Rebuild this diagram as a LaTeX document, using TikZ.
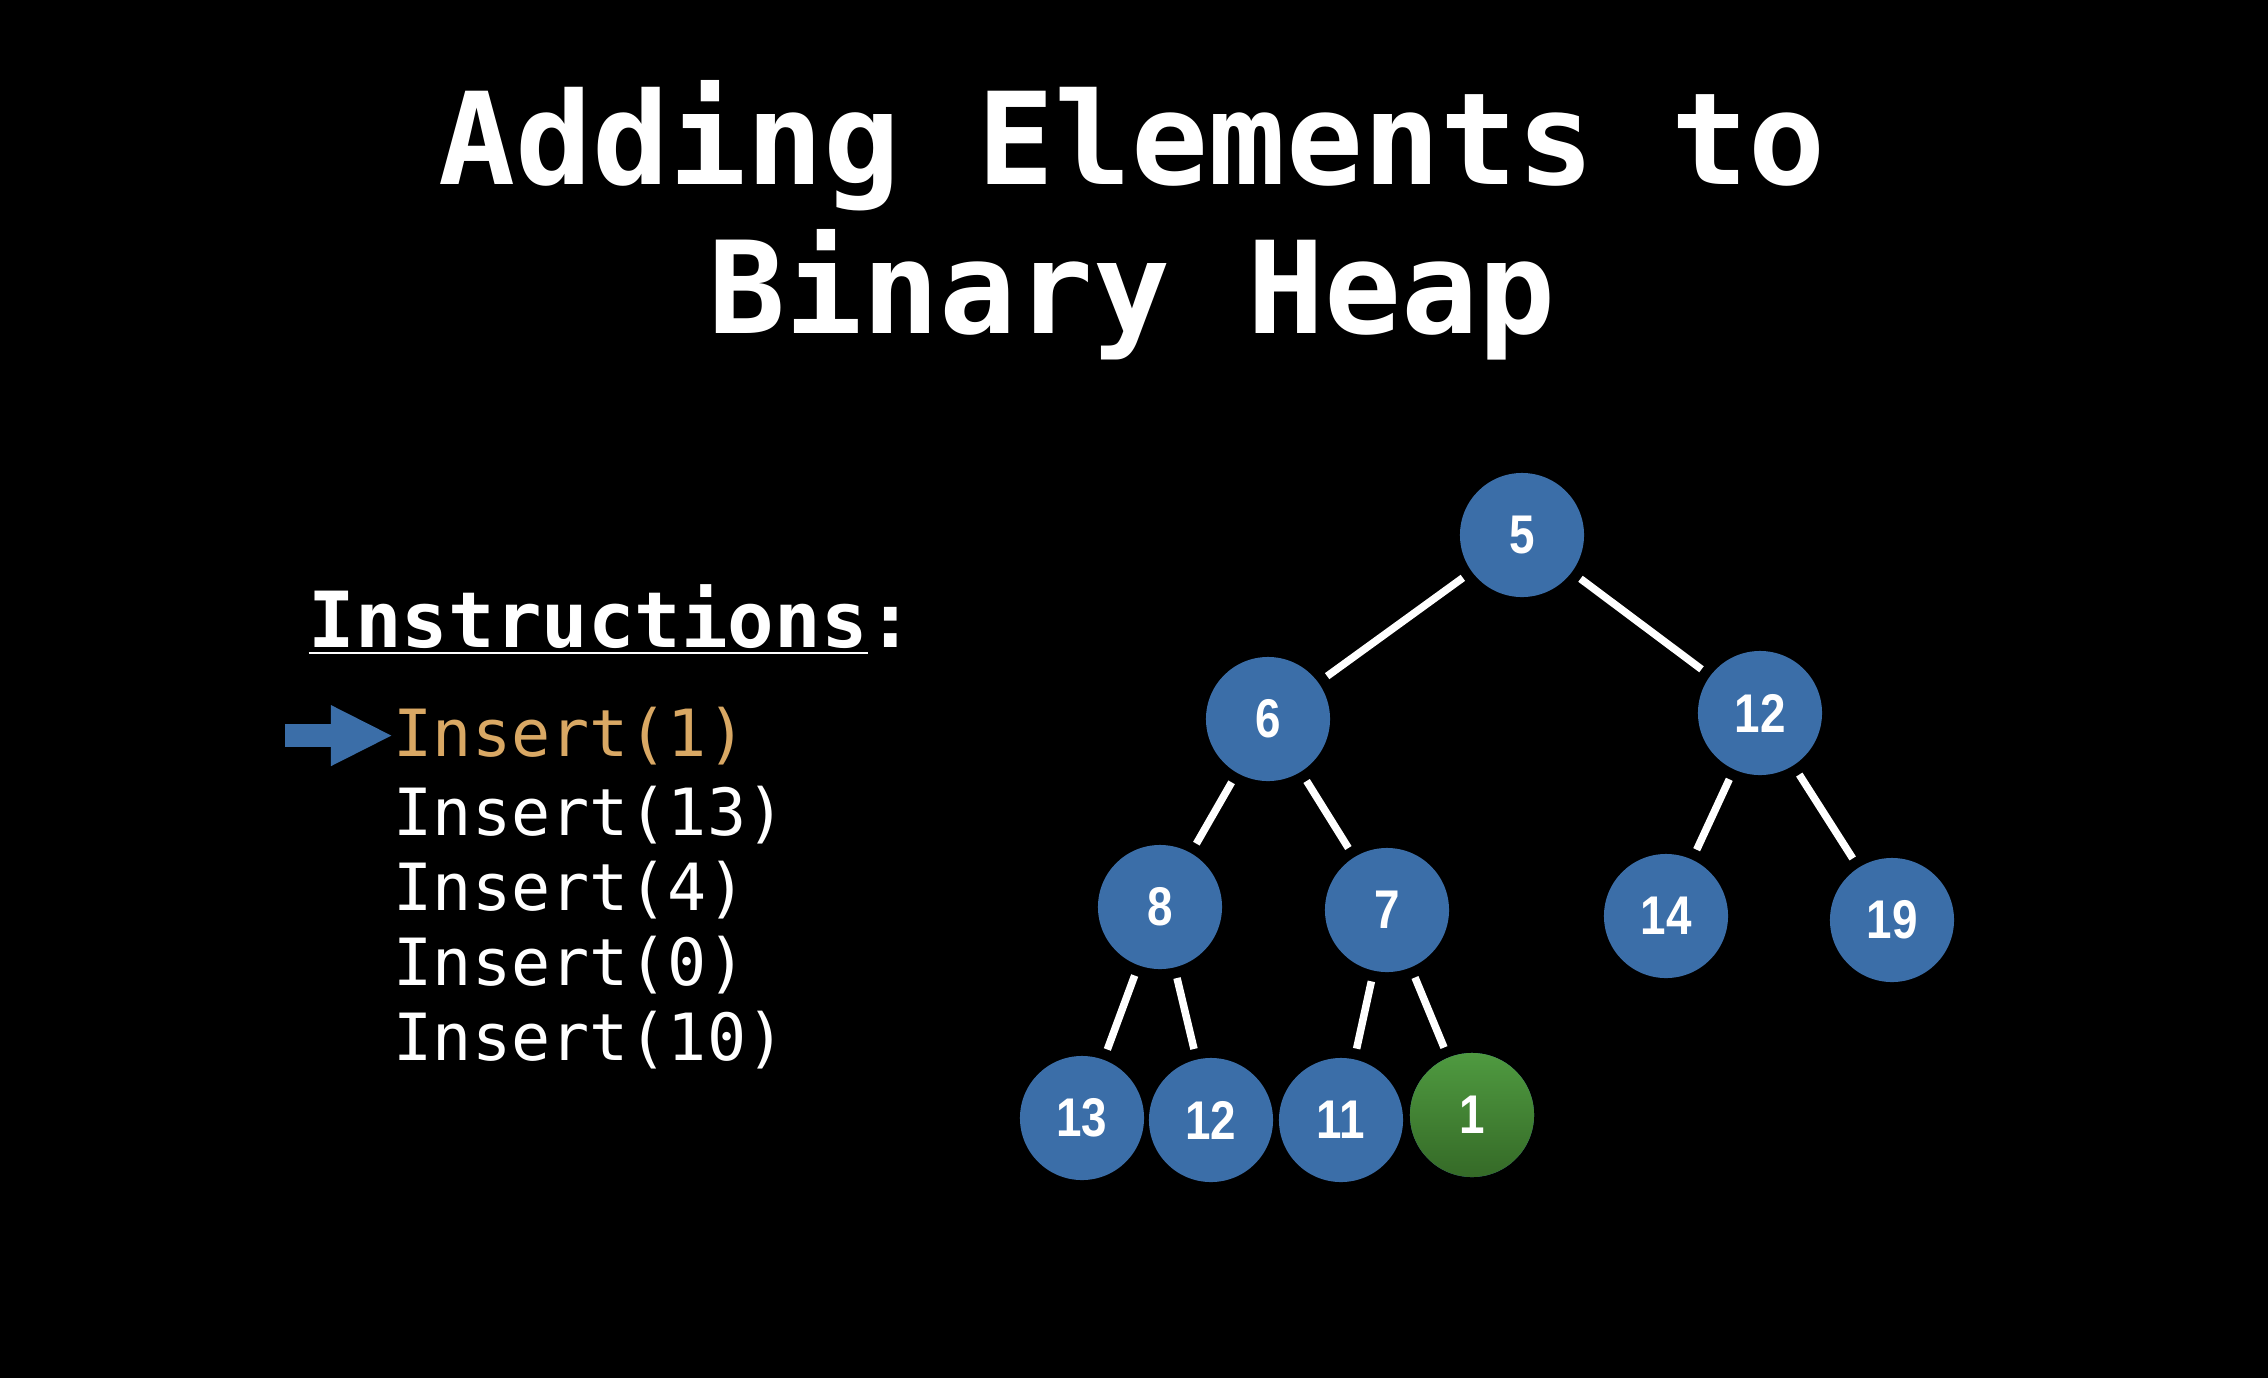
\documentclass[tikz,border=0pt]{standalone}
\usepackage{fontspec}
\setmonofont{DejaVu Sans Mono}
\setsansfont{Liberation Sans}
\newfontfamily\heapfont[FakeStretch=0.84]{Liberation Sans}
\usetikzlibrary{positioning,arrows.meta}
\definecolor{hBlue}{HTML}{3B6EA8}
\definecolor{hGreenTop}{HTML}{4F9A40}
\definecolor{hGreenBot}{HTML}{356A27}
\definecolor{hGold}{HTML}{D9A864}
\tikzset{
  heapnode/.style={circle, fill=hBlue, minimum size=1.24cm, inner sep=0pt, outer sep=0.11cm, text=white, font=\heapfont\bfseries\fontsize{15.5}{17}\selectfont},
  newnode/.style={heapnode, top color=hGreenTop, bottom color=hGreenBot},
  heapedge/.style={draw=white, line width=0.075cm},
  cmdline/.style={anchor=base west, inner sep=0pt, text=white, font=\ttfamily\fontsize{18.5}{22}\selectfont},
  titleline/.style={anchor=base, inner sep=0pt, text=white, font=\ttfamily\bfseries\fontsize{36.4}{44}\selectfont}
}
\begin{document}
\begin{tikzpicture}[x=0.01cm, y=-0.01cm]
\fill[black] (0,0) rectangle (2268,1378);
\useasboundingbox (0,0) rectangle (2268,1378);
% title
\node[titleline] (title1) at (1132,184) {Adding Elements to};
\node[titleline] (title2) at (1132,333) {Binary Heap};
% instructions
\node[cmdline, font=\ttfamily\bfseries\fontsize{22}{26}\selectfont] (instr) at (308,647) {\underline{Instructions}:};
\node[cmdline, text=hGold] (ins1) at (393,756) {Insert(1)};
\node[cmdline] (ins2) at (393,835) {Insert(13)};
\node[cmdline] (ins3) at (393,910) {Insert(4)};
\node[cmdline] (ins4) at (393,985) {Insert(0)};
\node[cmdline] (ins5) at (393,1060) {Insert(10)};
\draw[hBlue, line width=0.23cm, -{Triangle[length=0.62cm, width=0.56cm]}] ([xshift=-1.08cm]ins1.west) -- (ins1.west);
% heap
\node[heapnode] (n5) at (1522,535) {5};
\node[heapnode] (n6) at (1268,719) {6};
\node[heapnode] (n12) at (1760,713) {12};
\node[heapnode] (n8) at (1160,907) {8};
\node[heapnode] (n7) at (1387,910) {7};
\node[heapnode] (n14) at (1666,916) {14};
\node[heapnode] (n19) at (1892,920) {19};
\node[heapnode] (n13) at (1082,1118) {13};
\node[heapnode] (n12b) at (1211,1120) {12};
\node[heapnode] (n11) at (1341,1120) {11};
\node[newnode] (n1) at (1472,1115) {1};
\draw[heapedge] (n5) -- (n6);
\draw[heapedge] (n5) -- (n12);
\draw[heapedge] (n6) -- (n8);
\draw[heapedge] (n6) -- (n7);
\draw[heapedge] (n12) -- (n14);
\draw[heapedge] (n12) -- (n19);
\draw[heapedge] (n8) -- (n13);
\draw[heapedge] (n8) -- (n12b);
\draw[heapedge] (n7) -- (n11);
\draw[heapedge] (n7) -- (n1);
\end{tikzpicture}
\end{document}
